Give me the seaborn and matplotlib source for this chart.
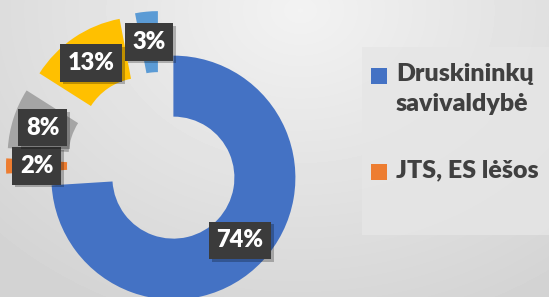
import numpy as np
import matplotlib
matplotlib.use("Agg")
import matplotlib.pyplot as plt
import matplotlib.patheffects as pe
from matplotlib.patches import Rectangle
import seaborn as sns

# shares in percent, clockwise from 12 o'clock
shares = [74, 2, 8, 13, 3]
palette = sns.color_palette(["#4472C4", "#ED7D31", "#A5A5A5", "#FFC000", "#5B9BD5"])
legend_labels = ["Druskininkų\nsavivaldybė", "JTS, ES lėšos"]

sns.set_theme(style="white")
plt.rcParams['font.family'] = ['Lato', 'DejaVu Sans']

W, H = 549, 297
fig = plt.figure(figsize=(W / 100, H / 100), dpi=100)

# background with soft gradient
bg = fig.add_axes([0, 0, 1, 1])
yy, xx = np.mgrid[0:H, 0:W]
d = np.sqrt(((xx - 300) / 420.0) ** 2 + ((yy - 10) / 330.0) ** 2)
shade = 0.95 - 0.12 * np.clip(d, 0, 1)
bg.imshow(shade, cmap="gray", vmin=0, vmax=1, extent=(0, W, 0, H), origin="upper", aspect="auto")
bg.set_xlim(0, W)
bg.set_ylim(0, H)
bg.axis("off")
# legend panel
bg.add_patch(Rectangle((362, H - 235), 200, 188, facecolor="#e6e6e6", edgecolor="none", alpha=0.8))

ax = fig.add_axes([0, 0, 1, 1])
ax.patch.set_alpha(0)

wedges, texts, autotexts = ax.pie(
    shares, colors=palette, startangle=90, counterclock=False,
    radius=122, center=(161, H - 166),
    explode=[17, 33, 33, 33, 33],
    wedgeprops=dict(width=61, linewidth=0),
    autopct=lambda p: f"{p:.0f}%", pctdistance=0.75,
)
for t in autotexts:
    t.set_color("white")
    t.set_fontsize(17)
    t.set_fontweight("heavy")
    t.set_bbox(dict(boxstyle="square,pad=0.32", facecolor="#3b3b3b", edgecolor="none"))
    t.get_bbox_patch().set_path_effects(
        [pe.SimplePatchShadow(offset=(2, -2), shadow_rgbFace="black", alpha=0.25), pe.Normal()])

ax.set_xlim(0, W)
ax.set_ylim(0, H)
ax.axis("off")

# legend (only first two entries fit in the crop)
legend_y = [H - 68, H - 164]
for lab, col, y in zip(legend_labels, palette[:2], legend_y):
    ax.add_patch(Rectangle((371, y - 16), 16, 16, facecolor=col, edgecolor="none"))
    ax.text(396, y + 5, lab, ha="left", va="top", fontsize=18, fontweight="heavy",
            color="#404040", linespacing=1.45)

fig.savefig("out.png", dpi=100)
